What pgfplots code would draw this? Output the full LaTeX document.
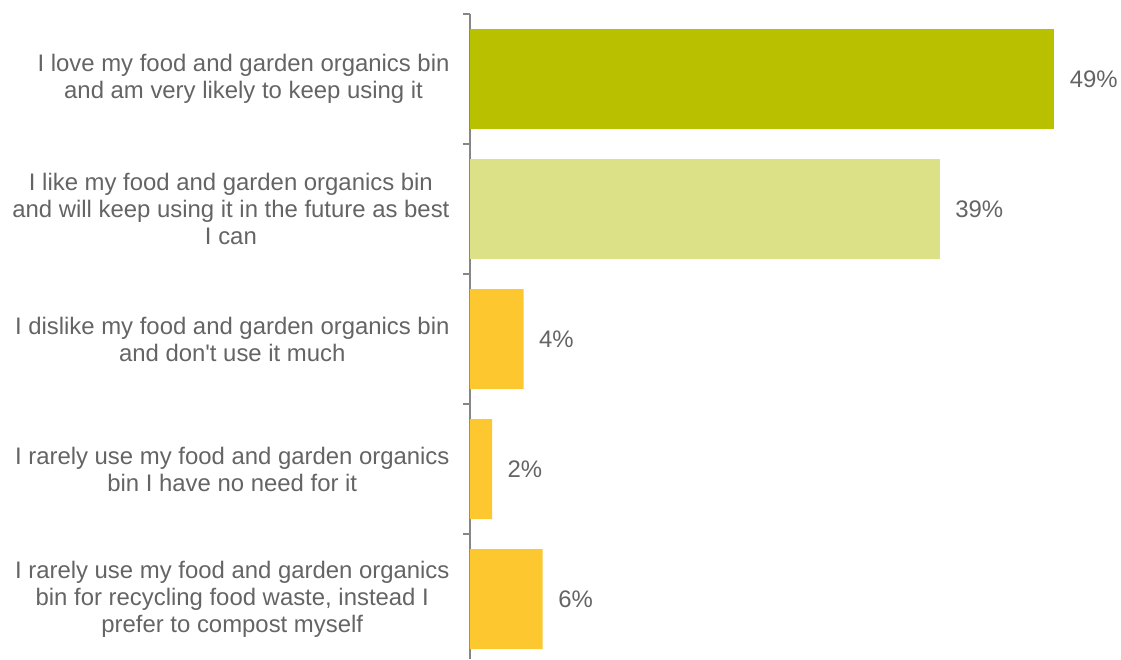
\documentclass[border=0pt]{standalone}
\usepackage{pgfplots}
\pgfplotsset{compat=1.18}
\usepackage{fontspec}
\setmainfont{Liberation Sans}
\definecolor{txt}{HTML}{646464}
\definecolor{axgray}{HTML}{868686}
\definecolor{cA}{HTML}{B9C000}
\definecolor{cB}{HTML}{DCE086}
\definecolor{cC}{HTML}{FDC82F}
\begin{document}
\begin{tikzpicture}
\begin{axis}[
  scale only axis, width=651pt, height=645pt,
  xbar, bar shift=0pt, bar width=100pt,
  xmin=0, xmax=54.6,
  ymin=-0.5, ymax=4.4615, y dir=reverse,
  axis x line=none, axis y line*=left,
  ytick={-0.5,0.5,1.5,2.5,3.5}, yticklabels={},
  tick align=outside, major tick length=7pt,
  y axis line style={draw=axgray, line width=1.5pt},
  ytick style={draw=axgray, line width=1.5pt},
  extra y ticks={0,1,2,3,4},
  extra y tick labels={{I love my food and garden organics bin\\and am very likely to keep using it},
    {I like my food and garden organics bin\\and will keep using it in the future as best\\I can},
    {I dislike my food and garden organics bin\\and don\textquotesingle t use it much},
    {I rarely use my food and garden organics\\bin I have no need for it},
    {I rarely use my food and garden organics\\bin for recycling food waste, instead I\\prefer to compost myself}},
  extra y tick style={major tick length=0pt},
  yticklabel style={align=center, anchor=east, xshift=-17pt, text=txt, font=\fontsize{23.9}{27}\selectfont},
  nodes near coords, point meta=explicit symbolic,
  nodes near coords style={anchor=west, xshift=12pt, text=txt, font=\fontsize{23.9}{27}\selectfont},
  clip=false,
]
\addplot[fill=cA, draw=none] coordinates {(49.0,0) [49\%]};
\addplot[fill=cB, draw=none] coordinates {(39.4,1) [39\%]};
\addplot[fill=cC, draw=none] coordinates {(4.5,2) [4\%] (1.85,3) [2\%] (6.1,4) [6\%]};
\end{axis}
\pgfresetboundingbox
\path (-470pt,0pt) rectangle (651pt,659pt);
\end{tikzpicture}
\end{document}
